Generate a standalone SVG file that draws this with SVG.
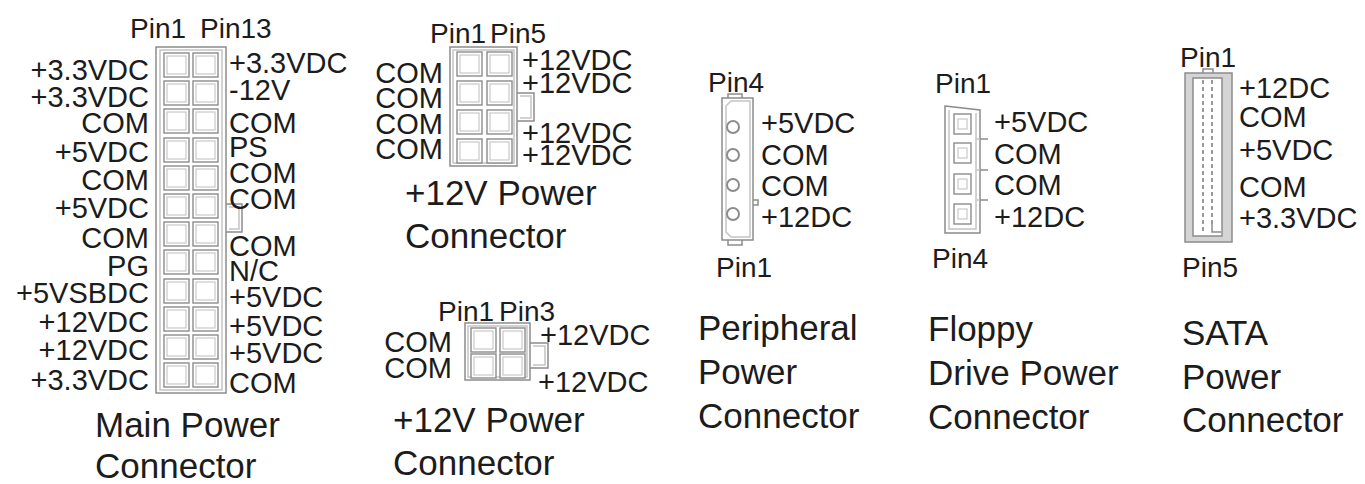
<svg xmlns="http://www.w3.org/2000/svg" xmlns:xlink="http://www.w3.org/1999/xlink" width="1365" height="484" viewBox="0 0 1365 484">
<style>
text { font-family: "Liberation Sans", Arial, sans-serif; fill: #1c1c1c; }
.lb { font-size: 29px; }
.pn { font-size: 28px; }
.tt { font-size: 35px; }
.end { text-anchor: end; }
.body { fill: #fff; stroke: #8c8c8c; stroke-width: 1.5; }
.bin { fill: none; stroke: #c4c4c4; stroke-width: 1.5; }
.pin { fill: #fff; stroke: #8c8c8c; stroke-width: 1.4; }
.pinin { fill: none; stroke: #c8c8c8; stroke-width: 1.2; }
.ln { fill: none; stroke: #8c8c8c; stroke-width: 1.5; }
.circ { fill: #fff; stroke: #8c8c8c; stroke-width: 2; }
</style>
<defs>
<g id="pin"><rect class="pin" x="0" y="0" width="25" height="24"/><rect class="pinin" x="3" y="3" width="19" height="18"/></g>
<g id="spin"><rect class="pin" x="0" y="0" width="17" height="20"/><rect class="pinin" x="4" y="5" width="9" height="10"/></g>
</defs>
<rect width="1365" height="484" fill="#fff"/>

<g id="main-power-connector">
<rect class="body" x="156" y="47" width="70" height="346"/>
<rect class="bin" x="160" y="50" width="62" height="340"/>
<path class="ln" d="M226,204 H242 V232 H226"/>
<path class="bin" d="M229,207 H239 V229 H229"/>
<use xlink:href="#pin" x="164" y="53"/><use xlink:href="#pin" x="193" y="53"/>
<use xlink:href="#pin" x="164" y="81"/><use xlink:href="#pin" x="193" y="81"/>
<use xlink:href="#pin" x="164" y="109"/><use xlink:href="#pin" x="193" y="109"/>
<use xlink:href="#pin" x="164" y="138"/><use xlink:href="#pin" x="193" y="138"/>
<use xlink:href="#pin" x="164" y="166"/><use xlink:href="#pin" x="193" y="166"/>
<use xlink:href="#pin" x="164" y="194"/><use xlink:href="#pin" x="193" y="194"/>
<use xlink:href="#pin" x="164" y="222"/><use xlink:href="#pin" x="193" y="222"/>
<use xlink:href="#pin" x="164" y="250"/><use xlink:href="#pin" x="193" y="250"/>
<use xlink:href="#pin" x="164" y="279"/><use xlink:href="#pin" x="193" y="279"/>
<use xlink:href="#pin" x="164" y="307"/><use xlink:href="#pin" x="193" y="307"/>
<use xlink:href="#pin" x="164" y="335"/><use xlink:href="#pin" x="193" y="335"/>
<use xlink:href="#pin" x="164" y="363"/><use xlink:href="#pin" x="193" y="363"/>
<text class="pn" x="130" y="38">Pin1</text>
<text class="pn" x="200" y="38">Pin13</text>
<text class="lb end" x="149" y="80">+3.3VDC</text>
<text class="lb end" x="149" y="107">+3.3VDC</text>
<text class="lb end" x="149" y="133">COM</text>
<text class="lb end" x="149" y="162">+5VDC</text>
<text class="lb end" x="149" y="190">COM</text>
<text class="lb end" x="149" y="218">+5VDC</text>
<text class="lb end" x="149" y="248">COM</text>
<text class="lb end" x="149" y="276">PG</text>
<text class="lb end" x="149" y="303">+5VSBDC</text>
<text class="lb end" x="149" y="332">+12VDC</text>
<text class="lb end" x="149" y="360">+12VDC</text>
<text class="lb end" x="149" y="390">+3.3VDC</text>
<text class="lb" x="229" y="73">+3.3VDC</text>
<text class="lb" x="229" y="100">-12V</text>
<text class="lb" x="229" y="133">COM</text>
<text class="lb" x="229" y="157">PS</text>
<text class="lb" x="229" y="183">COM</text>
<text class="lb" x="229" y="209">COM</text>
<text class="lb" x="229" y="256">COM</text>
<text class="lb" x="229" y="281">N/C</text>
<text class="lb" x="229" y="307">+5VDC</text>
<text class="lb" x="229" y="336">+5VDC</text>
<text class="lb" x="229" y="363">+5VDC</text>
<text class="lb" x="229" y="393">COM</text>
<text class="tt" x="95" y="437">Main Power</text>
<text class="tt" x="95" y="478">Connector</text>
</g>

<g id="plus12v-8pin-connector">
<rect class="body" x="450" y="47" width="67" height="119"/>
<rect class="bin" x="453" y="50" width="61" height="113"/>
<path class="ln" d="M517,93 H534 V121 H517"/>
<path class="bin" d="M520,96 H531 V118 H520"/>
<use xlink:href="#pin" x="457" y="52"/><use xlink:href="#pin" x="487" y="52"/>
<use xlink:href="#pin" x="457" y="81"/><use xlink:href="#pin" x="487" y="81"/>
<use xlink:href="#pin" x="457" y="110"/><use xlink:href="#pin" x="487" y="110"/>
<use xlink:href="#pin" x="457" y="139"/><use xlink:href="#pin" x="487" y="139"/>
<text class="pn" x="430" y="43">Pin1</text>
<text class="pn" x="490" y="43">Pin5</text>
<text class="lb end" x="443" y="83">COM</text>
<text class="lb end" x="443" y="108">COM</text>
<text class="lb end" x="443" y="134">COM</text>
<text class="lb end" x="443" y="159">COM</text>
<text class="lb" x="522" y="70">+12VDC</text>
<text class="lb" x="522" y="93">+12VDC</text>
<text class="lb" x="522" y="143">+12VDC</text>
<text class="lb" x="522" y="165">+12VDC</text>
<text class="tt" x="405" y="205">+12V Power</text>
<text class="tt" x="405" y="248">Connector</text>
</g>

<g id="plus12v-4pin-connector">
<rect class="body" x="465" y="323" width="65" height="57"/>
<rect class="bin" x="468" y="326" width="59" height="51"/>
<path class="ln" d="M530,343 H548 V368 H530"/>
<path class="bin" d="M533,346 H545 V365 H533"/>
<use xlink:href="#pin" x="471" y="328"/><use xlink:href="#pin" x="500" y="328"/>
<use xlink:href="#pin" x="471" y="354"/><use xlink:href="#pin" x="500" y="354"/>
<text class="pn" x="438" y="321">Pin1</text>
<text class="pn" x="499" y="321">Pin3</text>
<text class="lb end" x="452" y="352">COM</text>
<text class="lb end" x="452" y="378">COM</text>
<text class="lb" x="540" y="345">+12VDC</text>
<text class="lb" x="538" y="392">+12VDC</text>
<text class="tt" x="393" y="432">+12V Power</text>
<text class="tt" x="393" y="475">Connector</text>
</g>

<g id="peripheral-power-connector">
<rect class="body" x="728" y="94" width="14" height="6"/>
<rect class="body" x="728" y="239" width="14" height="6"/>
<path class="ln" d="M753,200 H758 V205 H753"/>
<rect class="body" x="722" y="98" width="31" height="142"/>
<path class="bin" d="M726,106 L731,101 H750 V237 H731 L726,232 Z"/>
<circle class="circ" cx="733" cy="127" r="6"/>
<circle class="circ" cx="733" cy="155" r="6"/>
<circle class="circ" cx="733" cy="185" r="6"/>
<circle class="circ" cx="733" cy="214" r="6"/>
<text class="pn" x="708" y="92">Pin4</text>
<text class="pn" x="716" y="277">Pin1</text>
<text class="lb" x="761" y="133">+5VDC</text>
<text class="lb" x="761" y="165">COM</text>
<text class="lb" x="761" y="196">COM</text>
<text class="lb" x="761" y="227">+12DC</text>
<text class="tt" x="698" y="340">Peripheral</text>
<text class="tt" x="698" y="384">Power</text>
<text class="tt" x="698" y="428">Connector</text>
</g>

<g id="floppy-drive-power-connector">
<path class="body" d="M945,106 L980,110 V233 H945 Z"/>
<path class="bin" d="M949,110 V229 H976 V113"/>
<path class="ln" d="M980,139 H988 M980,170 H988 M980,200 H988"/>
<path class="bin" d="M976,139 H980 M976,170 H980 M976,200 H980"/>
<use xlink:href="#spin" x="954" y="114"/>
<use xlink:href="#spin" x="954" y="143"/>
<use xlink:href="#spin" x="954" y="174"/>
<use xlink:href="#spin" x="954" y="204"/>
<text class="pn" x="935" y="93">Pin1</text>
<text class="pn" x="932" y="268">Pin4</text>
<text class="lb" x="994" y="132">+5VDC</text>
<text class="lb" x="994" y="164">COM</text>
<text class="lb" x="994" y="195">COM</text>
<text class="lb" x="994" y="227">+12DC</text>
<text class="tt" x="928" y="341">Floppy</text>
<text class="tt" x="928" y="385">Drive Power</text>
<text class="tt" x="928" y="429">Connector</text>
</g>

<g id="sata-power-connector">
<rect class="body" x="1203" y="69" width="10" height="6"/>
<rect x="1185" y="73" width="47" height="169" fill="#d4d4d4" stroke="#8c8c8c" stroke-width="1.5"/>
<rect class="body" x="1193" y="78" width="29" height="158"/>
<path d="M1203,80 V232" fill="none" stroke="#7a7a7a" stroke-width="1.5" stroke-dasharray="4 3"/>
<path d="M1212,80 V224" fill="none" stroke="#7a7a7a" stroke-width="1.5" stroke-dasharray="4 3"/>
<path class="ln" d="M1212,224 V232 H1221"/>
<text class="pn" x="1180" y="67">Pin1</text>
<text class="pn" x="1182" y="277">Pin5</text>
<text class="lb" x="1239" y="98">+12DC</text>
<text class="lb" x="1239" y="127">COM</text>
<text class="lb" x="1239" y="160">+5VDC</text>
<text class="lb" x="1239" y="197">COM</text>
<text class="lb" x="1239" y="228">+3.3VDC</text>
<text class="tt" x="1182" y="345">SATA</text>
<text class="tt" x="1182" y="389">Power</text>
<text class="tt" x="1182" y="432">Connector</text>
</g>
</svg>
